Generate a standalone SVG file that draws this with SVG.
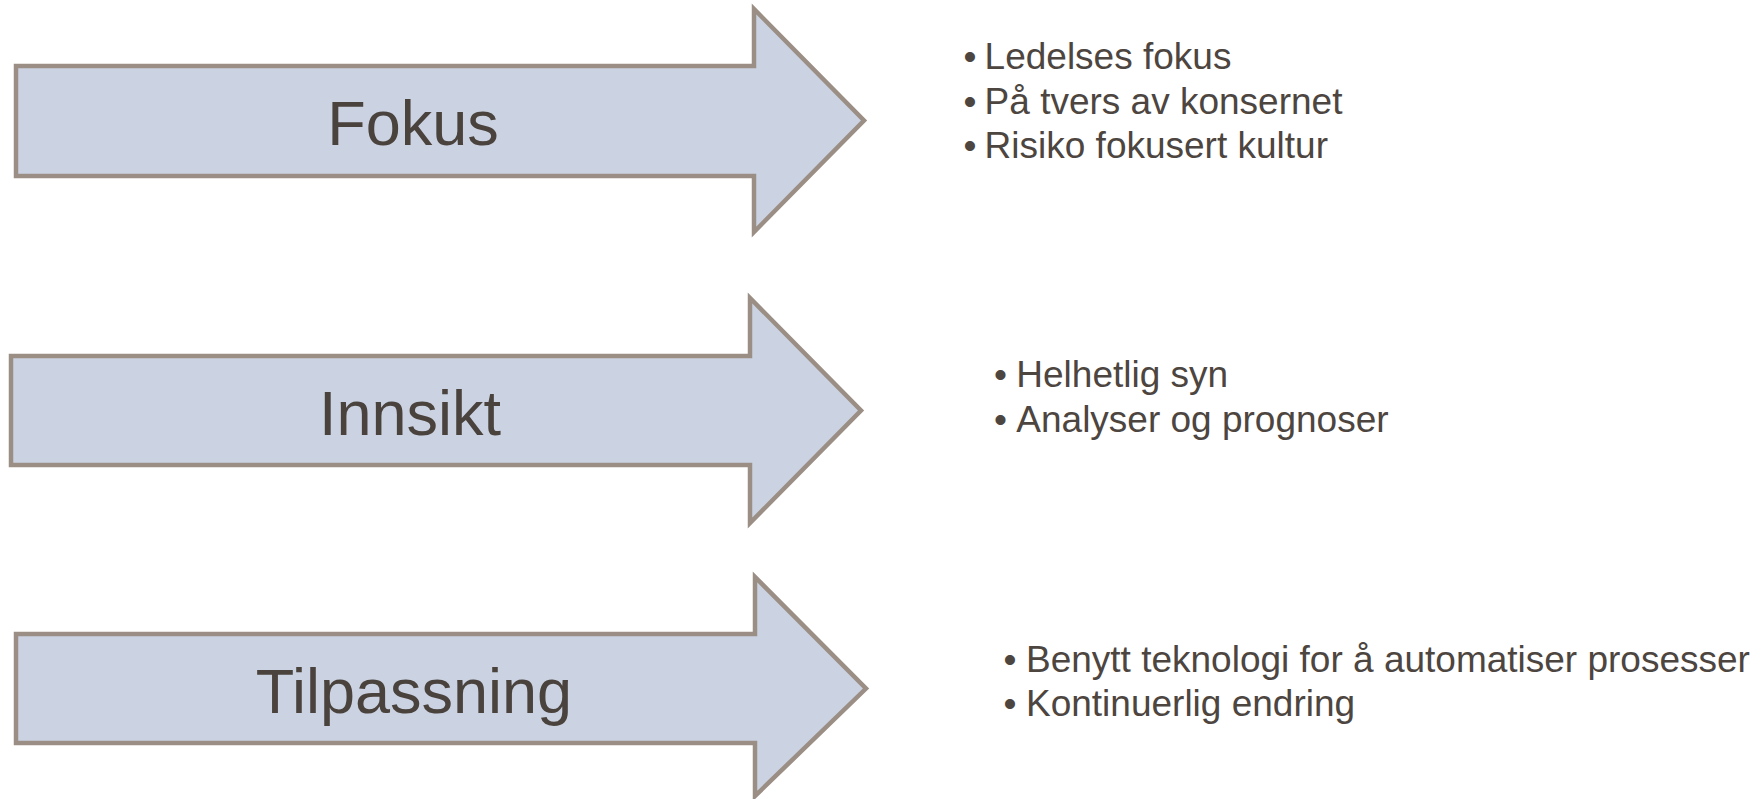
<svg xmlns="http://www.w3.org/2000/svg" width="1761" height="799" viewBox="0 0 1761 799">
<style>
.arrow{fill:#cbd3e2;stroke:#9b8e85;stroke-width:4.5;stroke-linejoin:miter}
.lbl{font-family:"Liberation Sans",Arial,sans-serif;font-size:63px;fill:#4a423d;text-anchor:middle}
.bul{font-family:"Liberation Sans",Arial,sans-serif;font-size:37px;fill:#4d4540}
</style>
<rect width="1761" height="799" fill="#ffffff"/>
<g id="node-fokus">
<path class="arrow" d="M16,66 H754 V9 L864,120.5 L754,232 V176 H16 Z"/>
<text class="lbl" x="413" y="145">Fokus</text>
</g>
<g id="node-innsikt">
<path class="arrow" d="M11,356 H750 V298 L861,410.5 L750,523 V465 H11 Z"/>
<text class="lbl" x="410" y="435">Innsikt</text>
</g>
<g id="node-tilpassning">
<path class="arrow" d="M16,634 H755 V577 L866,688.5 L755,796 V743 H16 Z"/>
<text class="lbl" x="414" y="713">Tilpassning</text>
</g>
<g id="list-fokus">
<text class="bul" x="963.5" y="69.3">•</text><text class="bul" x="984.6" y="69.3">Ledelses fokus</text>
<text class="bul" x="963.5" y="114.3">•</text><text class="bul" x="984.6" y="114.3">På tvers av konsernet</text>
<text class="bul" x="963.5" y="158.3">•</text><text class="bul" x="984.6" y="158.3">Risiko fokusert kultur</text>
</g>
<g id="list-innsikt">
<text class="bul" x="994" y="387">•</text><text class="bul" x="1016.3" y="387">Helhetlig syn</text>
<text class="bul" x="994" y="432">•</text><text class="bul" x="1016.3" y="432">Analyser og prognoser</text>
</g>
<g id="list-tilpassning">
<text class="bul" x="1003.5" y="671.5">•</text><text class="bul" x="1026" y="671.5">Benytt teknologi for å automatiser prosesser</text>
<text class="bul" x="1003.5" y="716">•</text><text class="bul" x="1026" y="716">Kontinuerlig endring</text>
</g>
<g id="connectors"></g>
</svg>
